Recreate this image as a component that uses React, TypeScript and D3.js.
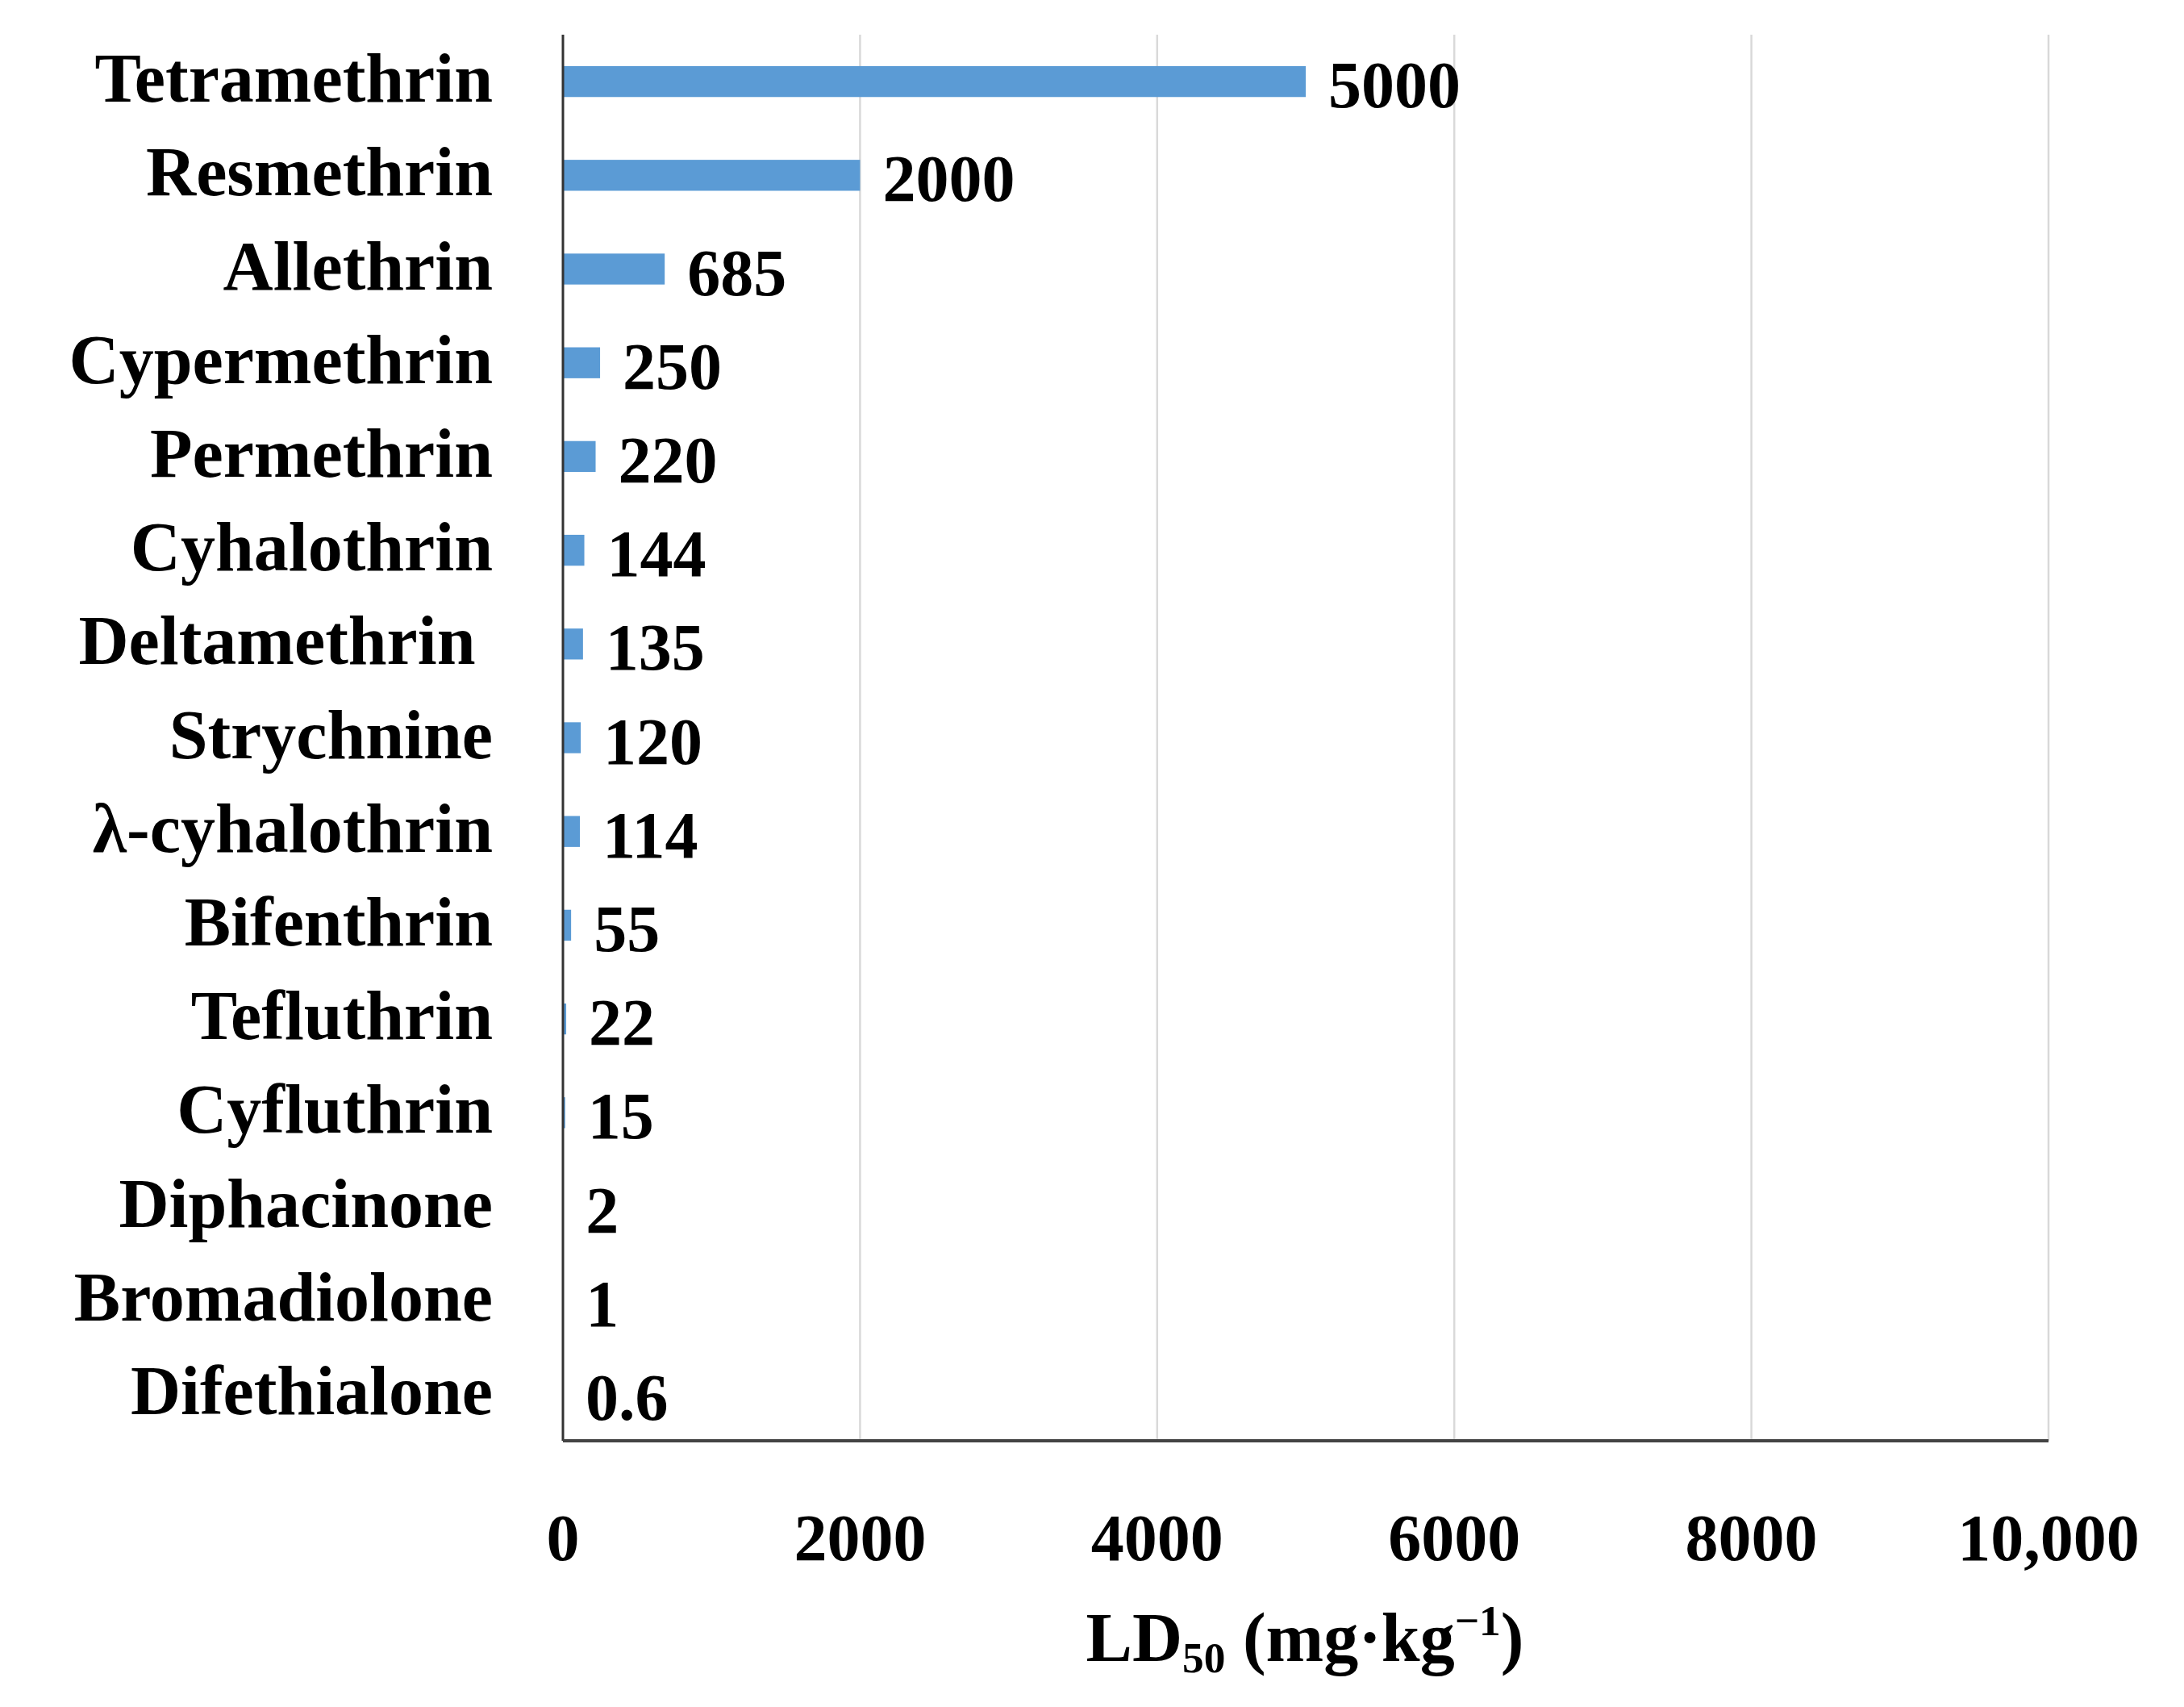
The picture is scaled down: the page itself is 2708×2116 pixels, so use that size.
import React from "react";
import * as d3 from "d3";

const categories = [
  "Tetramethrin",
  "Resmethrin",
  "Allethrin",
  "Cypermethrin",
  "Permethrin",
  "Cyhalothrin",
  "Deltamethrin ",
  "Strychnine",
  "λ-cyhalothrin",
  "Bifenthrin",
  "Tefluthrin",
  "Cyfluthrin",
  "Diphacinone",
  "Bromadiolone",
  "Difethialone",
];
const ld50 = [5000, 2000, 685, 250, 220, 144, 135, 120, 114, 55, 22, 15, 2, 1, 0.6];
const xTicks = [0, 2000, 4000, 6000, 8000, 10000];

const W = 2708;
const H = 2116;
const margin = { left: 698, right: 168, top: 43, bottom: 330 };
const font = "'Liberation Serif', 'Times New Roman', serif";
const fs = 86;
const fsNum = 82;

const App = () => {
  const x = d3
    .scaleLinear()
    .domain([0, 10000])
    .range([margin.left, W - margin.right]);
  const y = d3
    .scaleBand<string>()
    .domain(categories)
    .range([margin.top, H - margin.bottom])
    .padding(0);
  const barH = y.bandwidth() * 0.33;
  const fmt = (d: number) => (d >= 10000 ? d3.format(",")(d) : String(d));
  const bottom = H - margin.bottom;

  return (
    <svg
      width={W}
      height={H}
      style={{ position: "absolute", left: 0, top: 0, background: "#fff" }}
      fontFamily={font}
      fontWeight="bold"
    >
      {/* gridlines */}
      {xTicks.slice(1).map((t) => (
        <line
          key={t}
          x1={x(t)}
          x2={x(t)}
          y1={margin.top}
          y2={bottom}
          stroke="#d9d9d9"
          strokeWidth={2.5}
        />
      ))}

      {/* bars */}
      {categories.map((c, i) => (
        <rect
          key={c}
          x={x(0)}
          y={y(c)! + y.bandwidth() / 2 - barH / 2}
          width={x(ld50[i]) - x(0)}
          height={barH}
          fill="#5b9bd5"
        />
      ))}

      {/* value labels */}
      {categories.map((c, i) => (
        <text
          key={c}
          x={x(ld50[i]) + 28}
          y={y(c)! + y.bandwidth() / 2 + 32}
          fontSize={fsNum}
          fill="#000"
        >
          {String(ld50[i])}
        </text>
      ))}

      {/* category labels */}
      {categories.map((c) => (
        <text
          key={c}
          x={611}
          y={y(c)! + y.bandwidth() / 2 + 25}
          fontSize={fs}
          textAnchor="end"
          fill="#000"
          style={{ whiteSpace: "pre" }}
        >
          {c}
        </text>
      ))}

      {/* axes */}
      <line x1={x(0)} x2={x(0)} y1={margin.top} y2={bottom} stroke="#333" strokeWidth={3} />
      <line x1={x(0)} x2={x(10000)} y1={bottom} y2={bottom} stroke="#444" strokeWidth={4} />

      {xTicks.map((t) => (
        <text key={t} x={x(t)} y={1934} fontSize={fsNum} textAnchor="middle" fill="#000">
          {fmt(t)}
        </text>
      ))}

      <text x={1618} y={2059} fontSize={fs} textAnchor="middle" fill="#000">
        LD
        <tspan fontSize={fs * 0.62} dy={14}>50</tspan>
        <tspan dy={-14}> (mg·kg</tspan>
        <tspan fontSize={fs * 0.62} dy={-32}>−1</tspan>
        <tspan dy={32}>)</tspan>
      </text>
    </svg>
  );
};

export default App;
